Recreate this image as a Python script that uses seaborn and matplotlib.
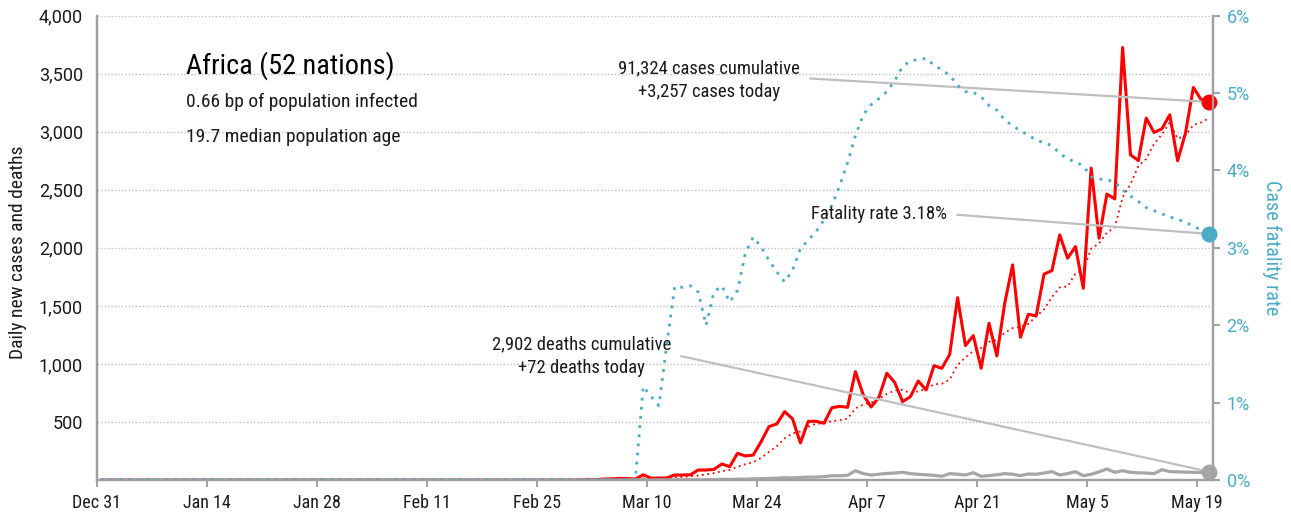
import numpy as np
import pandas as pd
import matplotlib
matplotlib.use("Agg")
import matplotlib.pyplot as plt
import seaborn as sns
from matplotlib import font_manager as fm
from matplotlib.ticker import FuncFormatter

# ---------------- data ----------------
start_date = "2019-12-31"

# daily new cases, one value per day from Dec 31
cases = [
    0, 0, 0, 0, 0, 0, 0, 0, 0, 0,
    0, 0, 0, 0, 0, 0, 0, 0, 0, 0,
    0, 0, 0, 0, 0, 0, 0, 0, 0, 0,
    0, 0, 0, 0, 0, 0, 0, 0, 0, 0,
    0, 0, 0, 0, 0, 1, 0, 0, 0, 0,
    0, 0, 0, 0, 0, 0, 1, 0, 1, 0,
    1, 2, 5, 4, 8, 10, 14, 12, 8, 45,
    15, 17, 18, 43, 43, 45, 86, 86, 92, 138,
    115, 230, 207, 215, 330, 460, 483, 589, 527, 319,
    505, 506, 489, 622, 635, 626, 934, 733, 629, 714,
    920, 840, 675, 718, 853, 776, 985, 962, 1083, 1571,
    1158, 1244, 962, 1351, 1069, 1523, 1853, 1230, 1428, 1414,
    1773, 1804, 2112, 1911, 2011, 1652, 2687, 2083, 2463, 2422,
    3726, 2801, 2752, 3118, 2994, 3026, 3146, 2750, 2989, 3382,
    3276, 3257,
]

# daily new deaths
deaths = [
    0, 0, 0, 0, 0, 0, 0, 0, 0, 0,
    0, 0, 0, 0, 0, 0, 0, 0, 0, 0,
    0, 0, 0, 0, 0, 0, 0, 0, 0, 0,
    0, 0, 0, 0, 0, 0, 0, 0, 0, 0,
    0, 0, 0, 0, 0, 0, 0, 0, 0, 0,
    0, 0, 0, 0, 0, 0, 0, 0, 0, 0,
    0, 0, 0, 0, 0, 0, 0, 0, 1, 1,
    0, 1, 1, 1, 2, 3, 2, 3, 4, 6,
    4, 8, 7, 10, 12, 14, 16, 20, 18, 22,
    25, 25, 29, 37, 36, 40, 80, 55, 43, 50,
    57, 60, 66, 55, 49, 45, 40, 32, 55, 50,
    43, 63, 32, 38, 45, 55, 50, 37, 52, 50,
    60, 72, 43, 55, 72, 37, 49, 70, 95, 66,
    80, 66, 62, 60, 55, 89, 72, 70, 68, 66,
    65, 72,
]

# case fatality rate, percent
fatality = [
    0, 0, 0, 0, 0, 0, 0, 0, 0, 0,
    0, 0, 0, 0, 0, 0, 0, 0, 0, 0,
    0, 0, 0, 0, 0, 0, 0, 0, 0, 0,
    0, 0, 0, 0, 0, 0, 0, 0, 0, 0,
    0, 0, 0, 0, 0, 0, 0, 0, 0, 0,
    0, 0, 0, 0, 0, 0, 0, 0, 0, 0,
    0, 0, 0, 0, 0, 0, 0, 0, 0, 1.21,
    1.08, 0.96, 1.75, 2.50, 2.49, 2.51, 2.43, 2.00, 2.43, 2.51,
    2.30, 2.45, 2.93, 3.14, 3.01, 2.84, 2.69, 2.56, 2.71, 2.99,
    3.10, 3.21, 3.36, 3.55, 3.80, 4.10, 4.45, 4.72, 4.85, 4.93,
    5.02, 5.16, 5.34, 5.42, 5.43, 5.45, 5.36, 5.30, 5.23, 5.10,
    5.02, 5.01, 4.95, 4.84, 4.78, 4.65, 4.58, 4.51, 4.46, 4.39,
    4.36, 4.32, 4.22, 4.15, 4.11, 4.06, 3.92, 3.89, 3.88, 3.85,
    3.75, 3.67, 3.60, 3.52, 3.48, 3.44, 3.40, 3.37, 3.33, 3.28,
    3.23, 3.18,
]

tick_dates = ["2019-12-31", "2020-01-14", "2020-01-28", "2020-02-11", "2020-02-25",
              "2020-03-10", "2020-03-24", "2020-04-07", "2020-04-21", "2020-05-05",
              "2020-05-19"]
tick_labels = ["Dec 31", "Jan 14", "Jan 28", "Feb 11", "Feb 25", "Mar 10",
               "Mar 24", "Apr 7", "Apr 21", "May 5", "May 19"]
left_ticks = [500, 1000, 1500, 2000, 2500, 3000, 3500, 4000]
right_ticks = [0, 1, 2, 3, 4, 5, 6]

title = "Africa (52 nations)"
subtitle1 = "0.66 bp of population infected"
subtitle2 = "19.7 median population age"
cases_note = "91,324 cases cumulative\n+3,257 cases today"
deaths_note = "2,902 deaths cumulative\n+72 deaths today"
fatality_note = "Fatality rate 3.18%"

# ---------------- styling ----------------
RED = "#ff0000"
CYAN = "#4bacc6"
GREY = "#a6a6a6"
LINE_GREY = "#bfbfbf"
SPINE = "#a0a0a0"
TEXT = "#1a1a1a"

sns.set_theme(style="white")
avail = {f.name for f in fm.fontManager.ttflist}
FONT = "DejaVu Sans"
for cand in ["Liberation Sans Narrow", "Roboto Condensed", "Open Sans Condensed",
             "Liberation Sans", "Roboto"]:
    if cand in avail:
        FONT = cand
        break
NUMFONT = "Roboto" if "Roboto" in avail else FONT
plt.rcParams["font.family"] = [FONT, "DejaVu Sans"]

dates = pd.date_range(start_date, periods=len(cases), freq="D")
df = pd.DataFrame({"date": dates, "cases": cases, "deaths": deaths, "fatality": fatality})
df["trend"] = df["cases"].rolling(7, min_periods=1).mean()

fig = plt.figure(figsize=(12.91, 5.20), dpi=100)
ax = fig.add_axes([97 / 1291, 40 / 520, (1213 - 97) / 1291, (480 - 15.7) / 520])
ax2 = ax.twinx()

sns.lineplot(data=df, x="date", y="cases", ax=ax, color=RED, lw=2.2, zorder=3)
sns.lineplot(data=df, x="date", y="trend", ax=ax, color=RED, lw=1.3,
             linestyle=(0, (1, 2)), zorder=3)
sns.lineplot(data=df, x="date", y="deaths", ax=ax, color=GREY, lw=2.3, zorder=4)
sns.lineplot(data=df, x="date", y="fatality", ax=ax2, color=CYAN, lw=2.0,
             linestyle=(0, (1, 2.3)), zorder=3)

last = df.iloc[-1]
ax.scatter([last["date"]], [last["cases"]], s=110, color=RED, zorder=6, clip_on=False)
ax.scatter([last["date"]], [last["deaths"]], s=110, color=GREY, zorder=6, clip_on=False)
ax2.scatter([last["date"]], [last["fatality"]], s=110, color=CYAN, zorder=6, clip_on=False)

half = pd.Timedelta(hours=12)
ax.set_xlim(dates[0] - half, dates[-1] + half)
ax.set_xticks(pd.to_datetime(tick_dates) - half)
ax.set_xticklabels(tick_labels)

ax.set_ylim(0, 4000)
ax.set_yticks(left_ticks)
ax.yaxis.set_major_formatter(FuncFormatter(lambda v, p: f"{v:,.0f}"))
ax2.set_ylim(0, 6)
ax2.set_yticks(right_ticks)
ax2.yaxis.set_major_formatter(FuncFormatter(lambda v, p: f"{v:.0f}%"))

ax.grid(False)
ax2.grid(False)
ax.yaxis.grid(True, color=LINE_GREY, linestyle=(0, (1, 1.5)), lw=1.0)
ax.set_axisbelow(True)

for a in (ax, ax2):
    for s in a.spines.values():
        s.set_color(SPINE)
        s.set_linewidth(1.6)
    a.spines["top"].set_visible(False)

ax.tick_params(axis="x", direction="out", length=4.8, width=1.4, color=SPINE,
               labelsize=13, labelcolor=TEXT, pad=5, bottom=True)
ax.tick_params(axis="y", length=0, labelsize=13, labelcolor=TEXT, pad=10, left=False)
ax2.tick_params(axis="y", direction="out", length=4.8, width=1.4, color=SPINE,
                labelsize=13, labelcolor=CYAN, pad=5, right=True)
for lab in ax.get_yticklabels() + ax2.get_yticklabels():
    lab.set_fontfamily(NUMFONT)
    lab.set_fontweight("normal")

ax.set_xlabel("")
ax.set_ylabel("Daily new cases and deaths", fontsize=14, color=TEXT)
ax.yaxis.set_label_coords(-0.0627, 0.49)
ax2.set_ylabel("Case fatality rate", fontsize=14.5, color=CYAN, rotation=270,
               va="center")
ax2.yaxis.set_label_coords(1.053, 0.50)

# titles
fig.text(186 / 1291, 1 - 74 / 520, title, fontsize=20.3, color="black", va="baseline")
fig.text(186 / 1291, 1 - 107 / 520, subtitle1, fontsize=14, color=TEXT, va="baseline")
fig.text(186 / 1291, 1 - 142 / 520, subtitle2, fontsize=14, color=TEXT, va="baseline")

# annotations with connectors
conn = dict(arrowstyle="-", color=LINE_GREY, lw=1.6, shrinkA=5, shrinkB=0)
ax.annotate(cases_note, xy=(last["date"], last["cases"]), xytext=(800, 520 - 80),
            textcoords="figure pixels", ha="right", va="center", ma="center",
            fontsize=13.4, color=TEXT, linespacing=1.4,
            arrowprops=dict(conn, relpos=(1, 0.55)), zorder=5)
ax.annotate(deaths_note, xy=(last["date"], last["deaths"]), xytext=(671, 520 - 356),
            textcoords="figure pixels", ha="right", va="center", ma="center",
            fontsize=13.4, color=TEXT, linespacing=1.4,
            arrowprops=dict(conn, relpos=(1, 0.55)), zorder=5)
ax2.annotate(fatality_note, xy=(last["date"], last["fatality"]), xytext=(947, 520 - 214),
             textcoords="figure pixels", ha="right", va="center",
             fontsize=13.4, color=TEXT,
             arrowprops=dict(conn, relpos=(1, 0.5)), zorder=5)

fig.savefig("out.png", dpi=100)
